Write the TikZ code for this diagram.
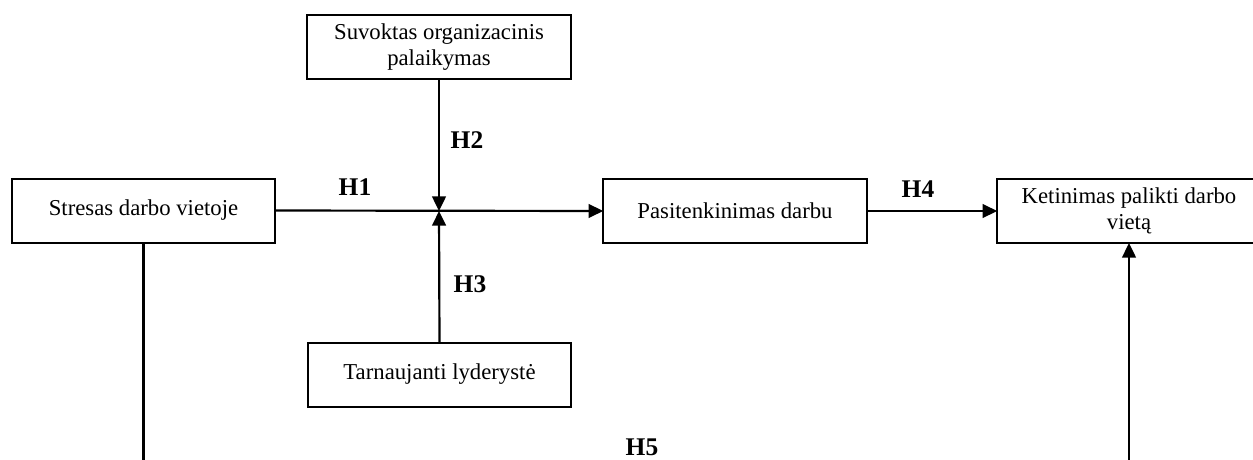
\documentclass[tikz,border=0pt]{standalone}
\usepackage{fontspec}
\setmainfont{Liberation Serif}
\usetikzlibrary{arrows.meta}

\tikzset{
  box/.style={draw, line width=1.1pt, minimum width=145pt, minimum height=35.2pt,
    inner sep=2pt, outer sep=0pt, align=center, font=\fontsize{12.5}{14}\selectfont},
  hlabel/.style={font=\fontsize{14}{16}\selectfont\bfseries, inner sep=0pt},
  conn/.style={line width=1.2pt},
  arr/.style={conn, -{Triangle[length=8pt, width=7.5pt]}}
}

\begin{document}
\begin{tikzpicture}[x=0.55pt, y=-0.55pt]
      \useasboundingbox (0,0) rectangle (1253,459);
      \clip (0,0) rectangle (1253,459);
      % boxes
      \node[box] (suvoktas) at (439,47) {Suvoktas organizacinis\\palaikymas};
      \node[box] (stresas) at (143.5,210.5) {Stresas darbo vietoje};
      \node[box] (pasit) at (735,211) {Pasitenkinimas darbu};
      \node[box] (ketin) at (1129,211) {Ketinimas palikti darbo\\vietą};
      \node[box] (tarn) at (439.5,374.5) {Tarnaujanti lyderystė};
      \coordinate (jn) at (439,211);
      \coordinate (bot) at (0,470);
      % connectors
      \draw[arr] (stresas.east) -- (pasit.west);
      \draw[arr] (suvoktas.south) -- (jn);
      \draw[arr] (tarn.north) -- (jn);
      \draw[arr] (pasit.east) -- (ketin.west);
      \draw[conn] (stresas.south) -- (stresas.south |- bot);
      \draw[arr] (ketin.south |- bot) -- (ketin.south);
      % labels
      \node[hlabel] (h1) at (355,187) {H1};
      \node[hlabel] (h2) at (467,140) {H2};
      \node[hlabel] (h3) at (470,284) {H3};
      \node[hlabel] (h4) at (918,189) {H4};
      \node[hlabel] (h5) at (642,447) {H5};
    \end{tikzpicture}
\end{document}
